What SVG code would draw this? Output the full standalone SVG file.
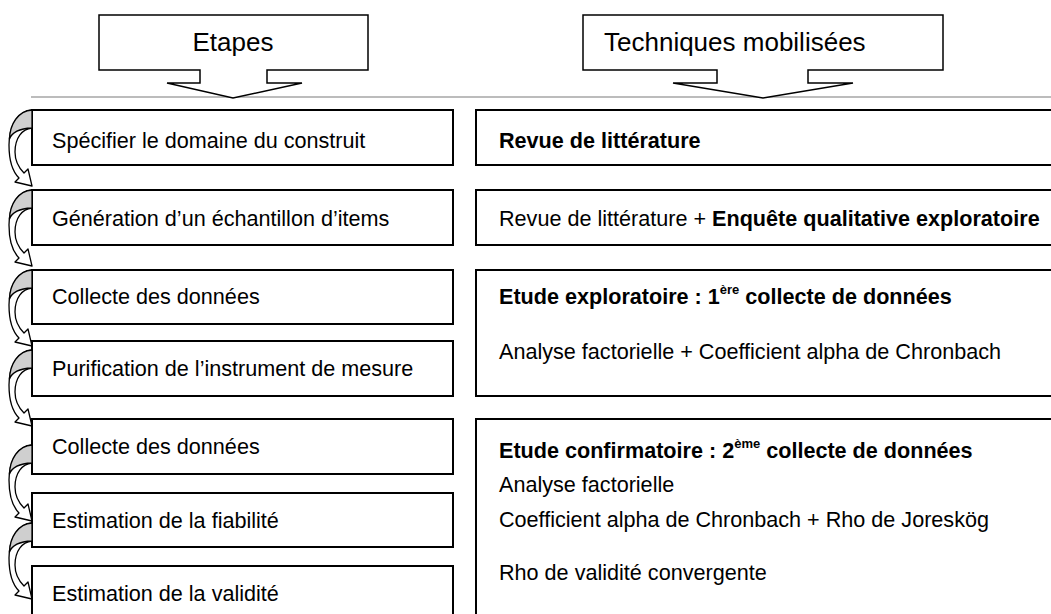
<svg xmlns="http://www.w3.org/2000/svg" width="1051" height="614" viewBox="0 0 1051 614">
  <style>
    .box { fill: #ffffff; stroke: #000000; stroke-width: 2; }
    .callout { fill: #ffffff; stroke: #000000; stroke-width: 1.5; stroke-linejoin: miter; }
    .t { font-family: "Liberation Sans", Arial, sans-serif; font-size: 21.6px; fill: #000000; }
    .h { font-family: "Liberation Sans", Arial, sans-serif; font-size: 26px; fill: #000000; }
    .b { font-weight: bold; }
    .sup { font-size: 13px; }
    .body { fill: #ffffff; stroke: #000000; stroke-width: 1.3; stroke-linejoin: round; }
    .shade { fill: #cfcfcf; stroke: #000000; stroke-width: 1.3; stroke-linejoin: round; }
  </style>
  <defs>
    <!-- curved arrow linking one step to the next, drawn at local origin -->
    <g id="curved-arrow">
      <path class="body" d="M32,0 C18,1 9,16 9,35 C9,52 13,62 19,68 L15,72 L32,76 L28,59 L24,63 C19,58 15,51 15,42 C15,28 22,19 32,18 Z"/>
      <path class="shade" d="M32,0 C18,1 10,14 9.5,29 C12,22 21,18.5 32,18 Z"/>
    </g>
  </defs>

  <rect width="1051" height="614" fill="#ffffff"/>

  <!-- separator under the column headers -->
  <line x1="31" y1="97" x2="1051" y2="97" stroke="#a6a6a6" stroke-width="1.5"/>

  <!-- column headers (down-arrow callouts) -->
  <g id="header-etapes">
    <path class="callout" d="M99,15 H368 V70 H267 V83 H302 L233,98 L167,83 H200 V70 H99 Z"/>
    <text class="h" x="233" y="51" text-anchor="middle">Etapes</text>
  </g>
  <g id="header-techniques">
    <path class="callout" d="M583,15 H943 V70 H808 V83 H853 L763,98 L673,83 H717 V70 H583 Z"/>
    <text class="h" x="604" y="51">Techniques mobilisées</text>
  </g>

  <!-- steps -->
  <g id="step-1">
    <rect class="box" x="32" y="110" width="421" height="55"/>
    <text class="t" x="52" y="148">Spécifier le domaine du construit</text>
  </g>
  <g id="step-2">
    <rect class="box" x="32" y="190" width="421" height="55"/>
    <text class="t" x="52" y="226">Génération d’un échantillon d’items</text>
  </g>
  <g id="step-3">
    <rect class="box" x="32" y="270" width="421" height="54"/>
    <text class="t" x="52" y="304">Collecte des données</text>
  </g>
  <g id="step-4">
    <rect class="box" x="32" y="341" width="421" height="55"/>
    <text class="t" x="52" y="376">Purification de l’instrument de mesure</text>
  </g>
  <g id="step-5">
    <rect class="box" x="32" y="419" width="421" height="55"/>
    <text class="t" x="52" y="454">Collecte des données</text>
  </g>
  <g id="step-6">
    <rect class="box" x="32" y="493" width="421" height="54"/>
    <text class="t" x="52" y="528">Estimation de la fiabilité</text>
  </g>
  <g id="step-7">
    <rect class="box" x="32" y="566" width="421" height="60"/>
    <text class="t" x="52" y="601">Estimation de la validité</text>
  </g>

  <!-- techniques -->
  <g id="tech-1">
    <rect class="box" x="476" y="110" width="590" height="55"/>
    <text class="t b" x="499" y="148">Revue de littérature</text>
  </g>
  <g id="tech-2">
    <rect class="box" x="476" y="190" width="590" height="55"/>
    <text class="t" x="499" y="226">Revue de littérature + <tspan class="b">Enquête qualitative exploratoire</tspan></text>
  </g>
  <g id="tech-3">
    <rect class="box" x="476" y="270" width="590" height="126"/>
    <text class="t b" x="499" y="304">Etude exploratoire : 1<tspan class="sup" dy="-10">ère</tspan><tspan dy="10"> collecte de données</tspan></text>
    <text class="t" x="499" y="359">Analyse factorielle + Coefficient alpha de Chronbach</text>
  </g>
  <g id="tech-4">
    <rect class="box" x="476" y="419" width="590" height="210"/>
    <text class="t b" x="499" y="458">Etude confirmatoire : 2<tspan class="sup" dy="-10">ème</tspan><tspan dy="10"> collecte de données</tspan></text>
    <text class="t" x="499" y="492">Analyse factorielle</text>
    <text class="t" x="499" y="527">Coefficient alpha de Chronbach + Rho de Joreskög</text>
    <text class="t" x="499" y="580">Rho de validité convergente</text>
  </g>

  <!-- connectors between successive steps -->
  <g id="connectors">
    <use href="#curved-arrow" transform="translate(0,110)"/>
    <use href="#curved-arrow" transform="translate(0,190)"/>
    <use href="#curved-arrow" transform="translate(0,270)"/>
    <use href="#curved-arrow" transform="translate(0,350)"/>
    <use href="#curved-arrow" transform="translate(0,445)"/>
    <use href="#curved-arrow" transform="translate(0,523)"/>
  </g>
</svg>
